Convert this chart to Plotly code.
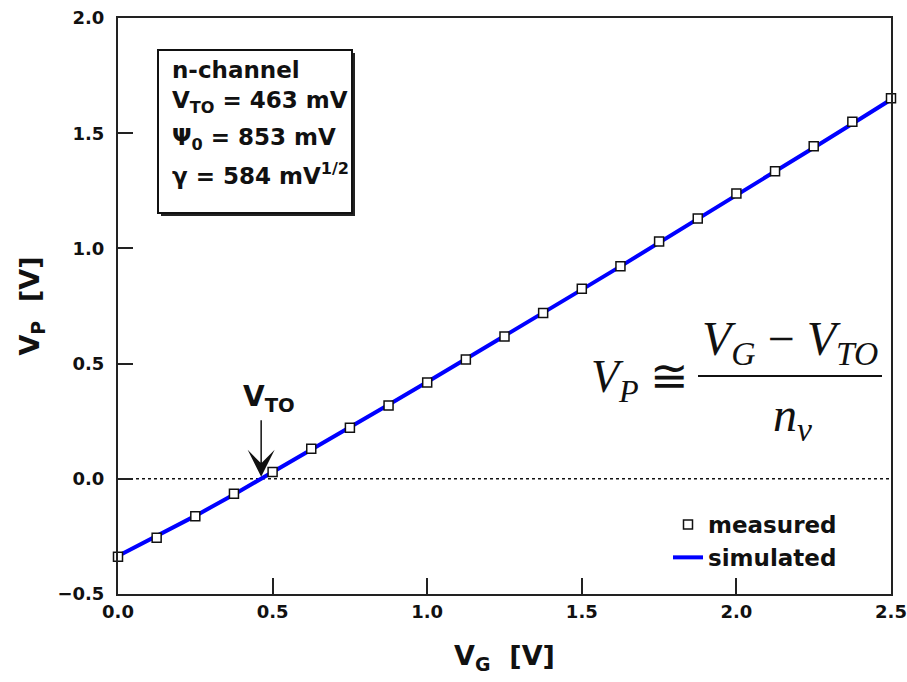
import plotly.graph_objects as go

# ---------------- data ----------------
vg = [0.0, 0.125, 0.25, 0.375, 0.5, 0.625, 0.75, 0.875, 1.0, 1.125, 1.25,
      1.375, 1.5, 1.625, 1.75, 1.875, 2.0, 2.125, 2.25, 2.375, 2.5]
vp_measured = [-0.338, -0.256, -0.163, -0.065, 0.030, 0.130, 0.222, 0.318,
               0.418, 0.518, 0.618, 0.720, 0.825, 0.922, 1.030, 1.130,
               1.238, 1.335, 1.443, 1.550, 1.652]
vp_simulated = [-0.335, -0.250, -0.161, -0.068, 0.028, 0.125, 0.223, 0.321,
                0.420, 0.519, 0.619, 0.720, 0.821, 0.922, 1.024, 1.127,
                1.229, 1.333, 1.437, 1.541, 1.646]
VTO = 0.463
x_ticks = [0.0, 0.5, 1.0, 1.5, 2.0, 2.5]
y_ticks = [-0.5, 0.0, 0.5, 1.0, 1.5, 2.0]

# ---------------- layout helpers (pixel -> paper) ----------------
W, H = 907, 682
L, R, T, B = 118, 16, 18, 88
PW, PH = W - L - R, H - T - B


def px(p):
    return (p - L) / PW


def py(p):
    return (H - B - p) / PH


SANS = "DejaVu Sans, Liberation Sans, Arial, sans-serif"
SERIF = "Liberation Serif, Times New Roman, serif"

fig = go.Figure()
fig.add_trace(go.Scatter(
    x=vg, y=vp_simulated, mode="lines", name="simulated",
    line=dict(color="#0000ff", width=4), legendrank=2, cliponaxis=False))
fig.add_trace(go.Scatter(
    x=vg, y=vp_measured, mode="markers", name="measured",
    marker=dict(symbol="square", size=9, color="white",
                line=dict(color="#111", width=1.5)),
    legendrank=1, cliponaxis=False))

axis_common = dict(
    showgrid=False, zeroline=False, showline=True, linecolor="#222",
    linewidth=2, mirror=True, ticks="inside", tickwidth=2,
    tickcolor="#222", tickformat=".1f",
    tickfont=dict(family=SANS, size=18, color="#111", weight="bold"),
)
fig.update_xaxes(range=[0, 2.5], tickvals=x_ticks, ticklen=16,
                 title=dict(text="V<sub>G</sub>  [V]", standoff=26,
                            font=dict(family=SANS, size=27, color="#111",
                                      weight="bold")),
                 **axis_common)
fig.update_yaxes(range=[-0.5, 2.0], tickvals=y_ticks, ticklen=15,
                 ticklabelstandoff=8,
                 title=dict(text="V<sub>P</sub>  [V]", standoff=10,
                            font=dict(family=SANS, size=27, color="#111",
                                      weight="bold")),
                 **axis_common)

shapes = []
# dotted zero line
shapes.append(dict(type="line", xref="paper", x0=0, x1=1, yref="y", y0=0, y1=0,
                   line=dict(color="#111", width=1.5, dash="dot"), layer="below"))
# parameter box with shadow
shapes.append(dict(type="rect", xref="paper", yref="paper",
                   x0=px(161), x1=px(355), y0=py(216), y1=py(53),
                   fillcolor="#222", line=dict(width=0)))
shapes.append(dict(type="rect", xref="paper", yref="paper",
                   x0=px(158), x1=px(352), y0=py(213), y1=py(50),
                   fillcolor="white", line=dict(color="#111", width=2)))
# fraction bar of formula
shapes.append(dict(type="line", xref="paper", yref="paper",
                   x0=px(698), x1=px(882), y0=py(376), y1=py(376),
                   line=dict(color="#111", width=2)))

ann = []
box_lines = [
    ("n-channel", 70),
    ("V<sub>TO</sub> = 463 mV", 102),
    ("Ψ<sub>0</sub> = 853 mV", 139),
    ("γ = 584 mV<sup>1/2</sup>", 174),
]
for txt, yc in box_lines:
    ann.append(dict(text=txt, xref="paper", yref="paper", x=px(170), y=py(yc),
                    xanchor="left", yanchor="middle", showarrow=False,
                    font=dict(family=SANS, size=23, color="#111", weight="bold")))

# formula
ffont = dict(family=SERIF, size=48, color="#111")
ann.append(dict(text="<i>V</i><sub><i>P</i></sub> ≅", xref="paper", yref="paper",
                x=px(589), y=py(380), xanchor="left", yanchor="middle",
                showarrow=False, font=dict(family=SERIF, size=46, color="#111")))
ann.append(dict(text="<i>V</i><sub><i>G</i></sub> − <i>V</i><sub><i>TO</i></sub>",
                xref="paper", yref="paper", x=px(790), y=py(342),
                xanchor="center", yanchor="middle", showarrow=False, font=ffont))
ann.append(dict(text="<i>n</i><sub><i>v</i></sub>", xref="paper", yref="paper",
                x=px(792), y=py(418), xanchor="center", yanchor="middle",
                showarrow=False, font=ffont))

# V_TO arrow and label
ann.append(dict(x=VTO, y=0, xref="x", yref="y", ax=0, ay=-60, axref="pixel",
                ayref="pixel", showarrow=True, arrowhead=3, arrowsize=3,
                arrowwidth=1.5, arrowcolor="#111", standoff=2, text=""))
ann.append(dict(text="V<sub>TO</sub>", x=VTO, y=py(398), xref="x", yref="paper",
                xshift=8, xanchor="center", yanchor="middle", showarrow=False,
                font=dict(family=SANS, size=28, color="#111", weight="bold")))

fig.update_layout(
    width=W, height=H, margin=dict(l=L, r=R, t=T, b=B, autoexpand=False),
    paper_bgcolor="white", plot_bgcolor="white",
    shapes=shapes, annotations=ann,
    showlegend=True,
    legend=dict(x=px(668), y=py(503), xanchor="left", yanchor="top",
                bgcolor="rgba(0,0,0,0)", borderwidth=0, tracegroupgap=4,
                font=dict(family=SANS, size=23, color="#111", weight="bold")),
)

fig.write_html("out.html")
